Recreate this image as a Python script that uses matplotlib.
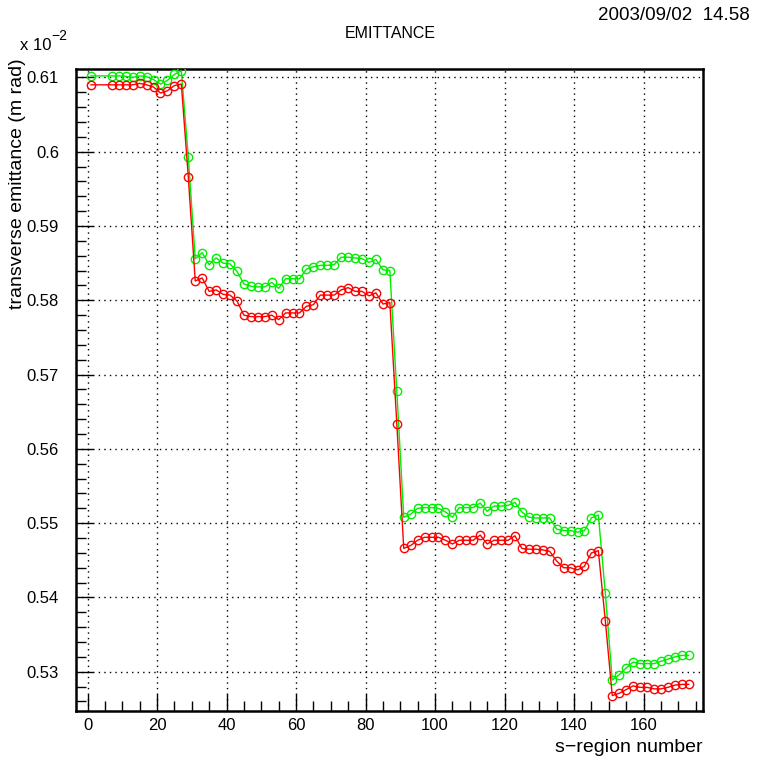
import matplotlib
matplotlib.use("Agg")
import matplotlib.pyplot as plt
from matplotlib.ticker import MultipleLocator

plt.rcParams['font.family'] = ['Liberation Sans', 'DejaVu Sans']

s_region = [1, 7, 9, 11, 13, 15, 17, 19, 21, 23, 25, 27, 29, 31, 33, 35, 37, 39, 41, 43,
            45, 47, 49, 51, 53, 55, 57, 59, 61, 63, 65, 67, 69, 71, 73, 75, 77, 79, 81, 83,
            85, 87, 89, 91, 93, 95, 97, 99, 101, 103, 105, 107, 109, 111, 113, 115, 117, 119,
            121, 123, 125, 127, 129, 131, 133, 135, 137, 139, 141, 143, 145, 147, 149, 151,
            153, 155, 157, 159, 161, 163, 165, 167, 169, 171, 173]

emit_green = [0.6102, 0.6102, 0.6102, 0.61015, 0.6100, 0.6102, 0.6101, 0.6097, 0.6091, 0.6096,
              0.6104, 0.6109, 0.5993, 0.5856, 0.5864, 0.5848, 0.5857, 0.5850, 0.5849, 0.5839,
              0.5822, 0.5819, 0.5818, 0.5818, 0.5824, 0.5816, 0.5829, 0.5829, 0.5829, 0.5842,
              0.5845, 0.5847, 0.5847, 0.5848, 0.5858, 0.5858, 0.5857, 0.5856, 0.5851, 0.5855,
              0.5841, 0.5840, 0.5678, 0.5508, 0.5512, 0.5520, 0.5521, 0.5521, 0.5520, 0.5515,
              0.5508, 0.5521, 0.5521, 0.5521, 0.5527, 0.5516, 0.5523, 0.5523, 0.5524, 0.5528,
              0.5515, 0.5508, 0.5507, 0.5507, 0.5507, 0.5492, 0.5490, 0.5490, 0.5488, 0.5490,
              0.5507, 0.5511, 0.5406, 0.5289, 0.5296, 0.5305, 0.5313, 0.5311, 0.5311, 0.5311,
              0.5314, 0.5317, 0.5320, 0.5322, 0.5322]

emit_red = [0.6090, 0.6090, 0.6090, 0.6090, 0.6090, 0.6092, 0.6090, 0.6087, 0.6079, 0.6082,
            0.6089, 0.6091, 0.5966, 0.5826, 0.5830, 0.5812, 0.5814, 0.5808, 0.5807, 0.5799,
            0.5780, 0.5778, 0.5778, 0.5778, 0.5780, 0.5774, 0.5783, 0.5783, 0.5783, 0.5792,
            0.5794, 0.5807, 0.5807, 0.5807, 0.5814, 0.5817, 0.5812, 0.5812, 0.5806, 0.5810,
            0.5795, 0.5797, 0.5634, 0.5466, 0.5470, 0.5477, 0.5481, 0.5481, 0.5481, 0.5477,
            0.5472, 0.5477, 0.5477, 0.5477, 0.5484, 0.5472, 0.5477, 0.5477, 0.5477, 0.5483,
            0.5466, 0.5465, 0.5465, 0.5464, 0.5462, 0.5449, 0.5440, 0.5440, 0.5437, 0.5442,
            0.5460, 0.5463, 0.5369, 0.5268, 0.5271, 0.5276, 0.5281, 0.5279, 0.5279, 0.5277,
            0.5277, 0.5279, 0.5282, 0.5283, 0.5283]

y_ticks = [0.53, 0.54, 0.55, 0.56, 0.57, 0.58, 0.59, 0.60, 0.61]
y_tick_labels = ['0.53', '0.54', '0.55', '0.56', '0.57', '0.58', '0.59', '0.6', '0.61']
x_ticks = [0, 20, 40, 60, 80, 100, 120, 140, 160]
x_tick_labels = ['0', '20', '40', '60', '80', '100', '120', '140', '160']

W, H = 762, 760
fig = plt.figure(figsize=(W / 100, H / 100), dpi=100)
ax = fig.add_axes([75.7 / W, 1 - 711 / H, (703.3 - 75.7) / W, (711 - 69) / H])

ax.plot(s_region, emit_green, color='#00ee00', lw=1.0, marker='o', ms=6,
        mfc='none', mec='#00ee00', mew=1.0, zorder=3)
ax.plot(s_region, emit_red, color='#ff0000', lw=1.0, marker='o', ms=6,
        mfc='none', mec='#ff0000', mew=1.0, zorder=4)

ax.set_xlim(-3.4, 177.2)
ax.set_ylim(0.52472, 0.61113)

ax.set_xticks(x_ticks)
ax.set_xticklabels(x_tick_labels, fontsize=12)
ax.set_yticks(y_ticks)
ax.set_yticklabels(y_tick_labels, fontsize=12)
ax.xaxis.set_minor_locator(MultipleLocator(5))
ax.yaxis.set_minor_locator(MultipleLocator(0.002))

ax.tick_params(axis='both', which='major', direction='in', length=12, width=1.0,
               colors='black', top=False, right=False)
ax.tick_params(axis='both', which='minor', direction='in', length=7, width=1.0,
               top=False, right=False)
ax.tick_params(axis='y', which='major', pad=12)
ax.tick_params(axis='x', which='major', pad=5)

ax.grid(True, which='major', color='black', linestyle=(0, (1, 3)), linewidth=1.0)
for sp in ax.spines.values():
    sp.set_linewidth(1.8)
    sp.set_color('black')

fig.text(750 / W, 1 - 15 / H, '2003/09/02  14.58', ha='right', va='center', fontsize=13.5)
fig.text(390 / W, 1 - 33 / H, 'EMITTANCE', ha='center', va='center', fontsize=11.5,
         family=['Liberation Sans Narrow', 'Liberation Sans'])
fig.text(20 / W, 1 - 50 / H, 'x 10', ha='left', va='baseline', fontsize=12)
fig.text(51 / W, 1 - 40 / H, '\u22122', ha='left', va='baseline', fontsize=10)
fig.text(18 / W, 1 - 184 / H, 'transverse emittance (m rad)', rotation=90,
         ha='center', va='center', fontsize=14)
fig.text(703 / W, 1 - 748 / H, 's\u2212region number', ha='right', va='center', fontsize=14)

fig.savefig('out.png', dpi=100)
